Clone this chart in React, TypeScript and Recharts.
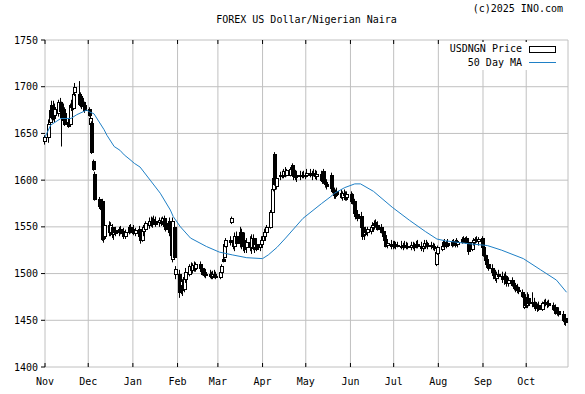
import React from "react";
import { Bar, CartesianGrid, ComposedChart, Line, XAxis, YAxis } from "recharts";

// daily candles, Nov 1 2024 .. Oct 29 2025 (weekdays), one line per week
const opens = [
  1642,
  1646, 1662, 1680, 1678, 1670,
  1672, 1684, 1680, 1676, 1672,
  1662, 1660, 1682, 1677, 1694,
  1692, 1690, 1688, 1684, 1680,
  1676, 1660, 1661, 1620, 1607,
  1580, 1574, 1578, 1548, 1540,
  1552, 1545, 1550, 1542, 1547,
  1545, 1548, 1544, 1546, 1540,
  1544, 1550, 1546, 1548, 1543,
  1548, 1541, 1536, 1546, 1548,
  1552, 1556, 1554, 1558, 1556,
  1555, 1557, 1556, 1559, 1554,
  1556, 1545, 1516, 1550, 1500,
  1500, 1482, 1488, 1484, 1494,
  1500, 1508, 1504, 1509, 1506,
  1510, 1506, 1503, 1502, 1500,
  1500, 1498, 1497, 1500, 1497,
  1496, 1502, 1516, 1518, 1530,
  1536, 1555, 1534, 1530, 1540,
  1533, 1545, 1530, 1536, 1528,
  1534, 1528, 1538, 1528, 1532,
  1528, 1532, 1536, 1540, 1544,
  1550, 1566, 1590, 1628, 1594,
  1604, 1606, 1605, 1610, 1606,
  1606, 1616, 1608, 1606, 1604,
  1606, 1605, 1606, 1604, 1606,
  1608, 1605, 1608, 1606, 1604,
  1607, 1600, 1610, 1598, 1596,
  1605, 1592, 1588, 1584, 1588,
  1586, 1582, 1586, 1584, 1582,
  1585, 1580, 1578, 1566, 1564,
  1562, 1550, 1542, 1546, 1544,
  1546, 1550, 1552, 1555, 1552,
  1550, 1546, 1541, 1537, 1531,
  1532, 1530, 1532, 1529, 1531,
  1530, 1528, 1531, 1529, 1530,
  1528, 1531, 1528, 1530, 1532,
  1529, 1527, 1530, 1533, 1530,
  1531, 1529, 1528, 1510, 1522,
  1526, 1530, 1534, 1530, 1533,
  1531, 1534, 1531, 1535, 1532,
  1534, 1537, 1535, 1538, 1534,
  1526, 1534, 1536, 1537, 1535,
  1538, 1528, 1520, 1516, 1510,
  1506, 1502, 1498, 1495, 1500,
  1497, 1494, 1497, 1494, 1490,
  1493, 1488, 1485, 1486, 1482,
  1480, 1464, 1475, 1466, 1474,
  1468, 1470, 1465, 1463, 1466,
  1462, 1468, 1470, 1467, 1469,
  1466, 1462, 1464, 1458, 1460,
  1457, 1450, 1452,
];

const highs = [
  1648,
  1665, 1680, 1685, 1685, 1682,
  1686, 1688, 1684, 1682, 1678,
  1666, 1682, 1686, 1695, 1704,
  1706, 1694, 1692, 1688, 1684,
  1678, 1670, 1663, 1622, 1609,
  1582, 1576, 1580, 1552, 1556,
  1556, 1555, 1553, 1548, 1550,
  1550, 1551, 1547, 1549, 1547,
  1552, 1553, 1549, 1552, 1549,
  1551, 1545, 1550, 1552, 1556,
  1560, 1561, 1560, 1562, 1561,
  1560, 1560, 1561, 1562, 1558,
  1560, 1552, 1560, 1554, 1508,
  1504, 1496, 1494, 1500, 1506,
  1510, 1512, 1511, 1513, 1512,
  1513, 1510, 1508, 1506, 1505,
  1504, 1502, 1503, 1504, 1502,
  1505, 1510, 1518, 1534, 1538,
  1540, 1561, 1540, 1544, 1545,
  1550, 1548, 1540, 1544, 1538,
  1540, 1542, 1542, 1536, 1538,
  1535, 1540, 1544, 1548, 1552,
  1568, 1592, 1604, 1630, 1604,
  1609, 1610, 1612, 1614, 1612,
  1614, 1618, 1612, 1611, 1610,
  1610, 1609, 1610, 1608, 1612,
  1612, 1610, 1612, 1611, 1610,
  1610, 1608, 1612, 1604, 1601,
  1608, 1596, 1592, 1590, 1592,
  1590, 1588, 1590, 1588, 1588,
  1588, 1586, 1580, 1570, 1568,
  1566, 1554, 1548, 1550, 1550,
  1552, 1555, 1557, 1558, 1556,
  1553, 1549, 1545, 1540, 1536,
  1536, 1535, 1535, 1534, 1534,
  1535, 1533, 1535, 1534, 1533,
  1534, 1534, 1533, 1535, 1536,
  1534, 1532, 1536, 1536, 1534,
  1534, 1533, 1532, 1525, 1530,
  1532, 1536, 1537, 1535, 1537,
  1536, 1537, 1536, 1538, 1536,
  1539, 1540, 1539, 1540, 1538,
  1536, 1538, 1539, 1540, 1539,
  1540, 1532, 1524, 1520, 1514,
  1510, 1505, 1504, 1502, 1504,
  1502, 1500, 1502, 1498, 1496,
  1496, 1492, 1490, 1489, 1486,
  1483, 1477, 1478, 1480, 1478,
  1480, 1474, 1470, 1468, 1470,
  1470, 1472, 1473, 1471, 1472,
  1469, 1466, 1467, 1463, 1464,
  1460, 1455, 1456,
];

const lows = [
  1638,
  1640, 1655, 1665, 1664, 1662,
  1668, 1670, 1636, 1660, 1658,
  1656, 1658, 1674, 1675, 1690,
  1680, 1678, 1676, 1678, 1672,
  1668, 1658, 1628, 1610, 1578,
  1570, 1568, 1535, 1533, 1536,
  1540, 1540, 1538, 1536, 1540,
  1540, 1542, 1540, 1537, 1537,
  1542, 1543, 1544, 1541, 1540,
  1538, 1532, 1534, 1540, 1545,
  1548, 1550, 1549, 1552, 1550,
  1550, 1551, 1552, 1548, 1545,
  1540, 1518, 1512, 1515, 1494,
  1474, 1478, 1476, 1480, 1490,
  1497, 1500, 1500, 1502, 1502,
  1503, 1500, 1498, 1496, 1495,
  1495, 1494, 1494, 1495, 1494,
  1494, 1500, 1512, 1516, 1528,
  1530, 1553, 1526, 1524, 1530,
  1528, 1526, 1524, 1522, 1522,
  1524, 1521, 1525, 1522, 1524,
  1524, 1528, 1532, 1536, 1540,
  1548, 1564, 1588, 1594, 1590,
  1600, 1602, 1602, 1603, 1604,
  1604, 1604, 1600, 1600, 1598,
  1600, 1602, 1602, 1601, 1603,
  1603, 1600, 1604, 1601, 1600,
  1598, 1596, 1596, 1592, 1590,
  1590, 1586, 1580, 1580, 1582,
  1580, 1578, 1580, 1578, 1578,
  1576, 1574, 1562, 1558, 1556,
  1548, 1536, 1536, 1540, 1540,
  1542, 1545, 1547, 1549, 1546,
  1543, 1538, 1534, 1528, 1527,
  1526, 1526, 1527, 1526, 1528,
  1526, 1525, 1527, 1526, 1526,
  1525, 1526, 1524, 1527, 1527,
  1524, 1523, 1526, 1528, 1526,
  1526, 1525, 1524, 1508, 1520,
  1524, 1528, 1528, 1527, 1529,
  1528, 1529, 1528, 1530, 1528,
  1532, 1533, 1532, 1533, 1520,
  1524, 1530, 1532, 1533, 1530,
  1526, 1518, 1510, 1506, 1503,
  1500, 1494, 1492, 1490, 1494,
  1490, 1488, 1492, 1486, 1486,
  1486, 1482, 1480, 1479, 1478,
  1474, 1462, 1464, 1463, 1465,
  1464, 1462, 1460, 1459, 1460,
  1460, 1464, 1465, 1463, 1464,
  1460, 1458, 1456, 1455, 1454,
  1448, 1445, 1444,
];

const closes = [
  1646,
  1660, 1675, 1668, 1666, 1676,
  1684, 1674, 1668, 1664, 1660,
  1658, 1680, 1678, 1692, 1700,
  1682, 1680, 1679, 1682, 1675,
  1670, 1667, 1630, 1612, 1580,
  1572, 1570, 1537, 1538, 1552,
  1544, 1552, 1542, 1545, 1543,
  1548, 1544, 1545, 1540, 1545,
  1550, 1546, 1548, 1543, 1547,
  1540, 1536, 1546, 1550, 1554,
  1556, 1553, 1558, 1555, 1553,
  1557, 1554, 1559, 1551, 1548,
  1545, 1520, 1556, 1518, 1505,
  1480, 1492, 1482, 1496, 1502,
  1508, 1504, 1509, 1505, 1510,
  1506, 1503, 1500, 1499, 1498,
  1497, 1496, 1500, 1497, 1496,
  1502, 1508, 1513, 1532, 1536,
  1534, 1560, 1530, 1540, 1533,
  1545, 1530, 1536, 1526, 1534,
  1528, 1538, 1527, 1532, 1526,
  1532, 1536, 1540, 1544, 1550,
  1566, 1590, 1602, 1596, 1602,
  1606, 1604, 1610, 1606, 1611,
  1612, 1606, 1604, 1603, 1606,
  1605, 1606, 1604, 1606, 1608,
  1605, 1608, 1606, 1604, 1607,
  1600, 1604, 1598, 1596, 1594,
  1592, 1588, 1584, 1588, 1585,
  1582, 1586, 1584, 1580, 1585,
  1578, 1576, 1565, 1562, 1560,
  1550, 1540, 1546, 1544, 1548,
  1550, 1552, 1554, 1552, 1548,
  1545, 1540, 1536, 1530, 1533,
  1530, 1532, 1529, 1531, 1530,
  1528, 1531, 1529, 1530, 1528,
  1531, 1528, 1530, 1532, 1529,
  1527, 1530, 1533, 1530, 1531,
  1529, 1528, 1527, 1523, 1528,
  1530, 1534, 1530, 1533, 1531,
  1534, 1531, 1535, 1532, 1534,
  1537, 1535, 1538, 1534, 1524,
  1534, 1536, 1537, 1535, 1537,
  1528, 1520, 1514, 1510, 1506,
  1502, 1498, 1495, 1500, 1497,
  1494, 1497, 1494, 1490, 1493,
  1488, 1485, 1486, 1482, 1481,
  1476, 1475, 1466, 1474, 1468,
  1470, 1465, 1463, 1466, 1462,
  1468, 1470, 1467, 1469, 1466,
  1462, 1464, 1458, 1460, 1457,
  1450, 1452, 1448,
];

// 50 day moving average, days counted from Nov 1 2024
const maDays = [0, 4, 11, 18, 22, 29, 31, 34, 41, 43, 48, 52, 55, 59, 62, 66, 73, 80, 87, 89, 94, 101, 112, 121, 130, 140, 151, 155, 161, 167, 179, 192, 198, 201, 208, 215, 219, 228, 241, 253, 264, 272, 278, 294, 307, 317, 332, 344, 355, 362];
const maValues = [1646, 1659, 1666, 1666, 1670, 1675, 1673, 1671, 1654, 1648, 1636, 1632, 1627, 1622, 1618, 1614, 1600, 1586, 1568, 1561, 1550, 1538, 1529, 1523, 1520, 1517, 1516, 1520, 1528, 1538, 1559, 1575, 1582, 1586, 1592, 1596, 1596, 1588, 1571, 1557, 1545, 1537, 1535, 1532, 1530, 1525, 1516, 1504, 1493, 1480];

const monthTicks = [0, 30, 61, 92, 120, 151, 181, 212, 242, 273, 304, 334];
const monthLabels = ["Nov", "Dec", "Jan", "Feb", "Mar", "Apr", "May", "Jun", "Jul", "Aug", "Sep", "Oct"];
const priceTicks = [1400, 1450, 1500, 1550, 1600, 1650, 1700, 1750];

const FONT = "'DejaVu Sans Mono', monospace";
const PLOT_H = 327;

// trading days (weekdays) as offsets from Nov 1 2024
const tradingDays: number[] = [];
for (let d = 0; tradingDays.length < closes.length; d++) {
  const wd = new Date(Date.UTC(2024, 10, 1 + d)).getUTCDay();
  if (wd !== 0 && wd !== 6) tradingDays.push(d);
}

const candles = closes.map((c, i) => ({
  d: tradingDays[i],
  o: opens[i],
  h: highs[i],
  l: lows[i],
  c,
  range: [lows[i], highs[i]],
}));

const maData = maDays.map((d, i) => ({ d, ma: maValues[i] }));

const Candle = (props: any) => {
  const { x, y, width, height, payload } = props;
  if (!payload) return null;
  const { o, h, l, c } = payload;
  const top = Math.min(y, y + height);
  const span = Math.abs(height);
  const toY = (v: number) => (h === l ? top : top + ((h - v) / (h - l)) * span);
  const cx = Math.round(x + width / 2);
  const y1 = Math.round(toY(Math.max(o, c)));
  const y2 = Math.round(toY(Math.min(o, c)));
  const up = c >= o;
  return (
    <g>
      <line x1={cx - 0.5} x2={cx - 0.5} y1={top} y2={top + span} stroke="#000" strokeWidth={1} />
      <rect
        x={cx - 1.5}
        y={y1 + 0.5}
        width={3}
        height={Math.max(1, y2 - y1)}
        fill={up ? "#fff" : "#000"}
        stroke="#000"
        strokeWidth={1}
      />
    </g>
  );
};

const MonthTick = (props: any) => {
  const { x, y, payload } = props;
  const idx = monthTicks.indexOf(payload.value);
  return (
    <g>
      <line x1={x} x2={x} y1={y - 4} y2={y} stroke="#000" />
      <line x1={x} x2={x} y1={y - PLOT_H} y2={y - PLOT_H + 4} stroke="#000" />
      <text x={x} y={y + 18} textAnchor="middle" fontFamily={FONT} fontSize={10} fill="#000">
        {monthLabels[idx]}
      </text>
    </g>
  );
};

export default function App() {
  return (
    <div style={{ position: "absolute", left: 0, top: 0, width: 585, height: 394, background: "#fff" }}>
      <ComposedChart
        width={585}
        height={394}
        data={candles}
        margin={{ top: 40, right: 0, bottom: 0, left: 0 }}
      >
        <CartesianGrid stroke="#c0c0c0" />
        <XAxis
          dataKey="d"
          type="number"
          domain={[0, 363]}
          ticks={monthTicks}
          interval={0}
          height={27}
          axisLine={false}
          tickLine={false}
          tickSize={0}
          tickMargin={0}
          tick={<MonthTick />}
        />
        <YAxis
          domain={[1400, 1750]}
          ticks={priceTicks}
          width={45}
          axisLine={false}
          tickSize={4}
          tickMargin={3}
          tickLine={{ stroke: "#000" }}
          tick={{ fill: "#000", fontSize: 10, fontFamily: FONT }}
        />
        <YAxis
          yAxisId="right"
          orientation="right"
          domain={[1400, 1750]}
          ticks={priceTicks}
          width={17}
          axisLine={false}
          tickSize={4}
          tickLine={{ stroke: "#000" }}
          tickFormatter={() => ""}
        />
        <Bar dataKey="range" barSize={4} shape={<Candle />} isAnimationActive={false} />
        <Line
          data={maData}
          dataKey="ma"
          type="linear"
          stroke="#1f80c6"
          strokeWidth={1}
          dot={false}
          isAnimationActive={false}
        />
      </ComposedChart>

      <div style={{ position: "absolute", left: 0, top: 3, width: 563, textAlign: "right", fontFamily: FONT, fontSize: 10, lineHeight: "12px" }}>
        (c)2025 INO.com
      </div>
      <div style={{ position: "absolute", left: 45, top: 14, width: 523, textAlign: "center", fontFamily: FONT, fontSize: 10, lineHeight: "12px" }}>
        FOREX US Dollar/Nigerian Naira
      </div>

      <div style={{ position: "absolute", left: 446, top: 42, width: 114, height: 28, background: "#fff", fontFamily: FONT, fontSize: 10 }}>
        <div style={{ position: "absolute", right: 38, top: 1, lineHeight: "12px", whiteSpace: "nowrap" }}>USDNGN Price</div>
        <div style={{ position: "absolute", left: 83, top: 4, width: 25, height: 5, border: "1px solid #000", background: "#fff" }} />
        <div style={{ position: "absolute", right: 38, top: 15, lineHeight: "12px", whiteSpace: "nowrap" }}>50 Day MA</div>
        <div style={{ position: "absolute", left: 83, top: 20, width: 27, height: 1, background: "#1f80c6" }} />
      </div>
    </div>
  );
}
